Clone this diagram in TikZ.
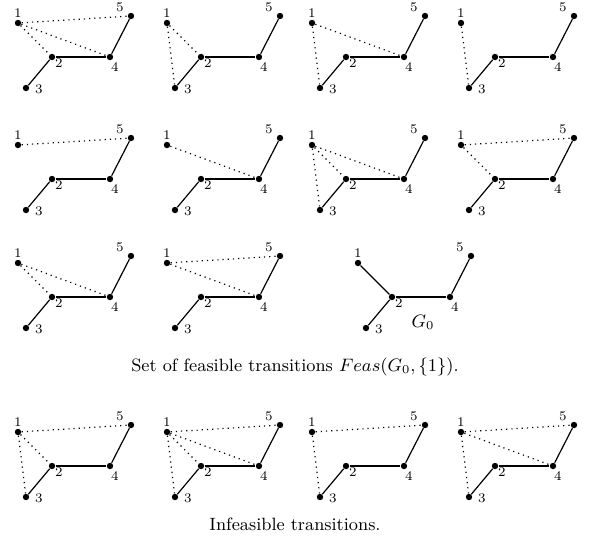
\documentclass[tikz,border=0pt]{standalone}
\tikzset{
  vtx/.style={circle,fill=black,inner sep=0pt,minimum size=3.2pt},
  lbl/.style={inner sep=0pt,font=\fontsize{6.6}{7.5}\selectfont},
  solidedge/.style={line width=0.6pt},
  dotedge/.style={line width=0.6pt,dotted},
  caption/.style={inner sep=0pt,font=\fontsize{8.9}{10}\selectfont}
}
\newcommand{\graphpanel}[4]{%
  \begin{scope}[shift={(#2,#3)}]
    \node[vtx] (#1-1) at (18,23) {};
    \node[vtx] (#1-2) at (52,57) {};
    \node[vtx] (#1-3) at (26,88) {};
    \node[vtx] (#1-4) at (110,57) {};
    \node[vtx] (#1-5) at (131,16) {};
    \node[lbl] (#1-l1) at (18,13) {1};
    \node[lbl] (#1-l2) at (59,63) {2};
    \node[lbl] (#1-l3) at (39,89) {3};
    \node[lbl] (#1-l4) at (115,67) {4};
    \node[lbl] (#1-l5) at (120,7) {5};
    \draw[solidedge] (#1-2) -- (#1-3);
    \draw[solidedge] (#1-2) -- (#1-4);
    \draw[solidedge] (#1-4) -- (#1-5);
    \foreach \t in {#4} {\draw[dotedge] (#1-1) -- (#1-\t);}
  \end{scope}}
\begin{document}
\begin{tikzpicture}[x=0.5pt,y=-0.5pt]
\useasboundingbox (0,0) rectangle (590,538);
% row 1
\graphpanel{a}{0}{0}{5,2,4}
\graphpanel{b}{149}{0}{3,2}
\graphpanel{c}{294}{0}{4,3}
\graphpanel{d}{443}{0}{3}
% row 2
\graphpanel{e}{0}{122}{5}
\graphpanel{f}{149}{122}{4}
\graphpanel{g}{294}{122}{2,3,4}
\graphpanel{h}{443}{122}{5,2}
% row 3
\graphpanel{i}{0}{240}{4,2}
\graphpanel{j}{149}{240}{5,4}
% G0
\begin{scope}[shift={(340,240)}]
  \node[vtx] (z-1) at (18,23) {};
  \node[vtx] (z-2) at (52,57) {};
  \node[vtx] (z-3) at (26,88) {};
  \node[vtx] (z-4) at (110,57) {};
  \node[vtx] (z-5) at (131,16) {};
  \node[lbl] (z-l1) at (18,13) {1};
  \node[lbl] (z-l2) at (59,63) {2};
  \node[lbl] (z-l3) at (39,89) {3};
  \node[lbl] (z-l4) at (115,67) {4};
  \node[lbl] (z-l5) at (120,7) {5};
  \node[caption] (z-g) at (83,82) {$G_0$};
  \draw[solidedge] (z-1) -- (z-2);
  \draw[solidedge] (z-2) -- (z-3);
  \draw[solidedge] (z-2) -- (z-4);
  \draw[solidedge] (z-4) -- (z-5);
\end{scope}
\node[caption,anchor=base] (cap1) at (295,371) {Set of feasible transitions $Feas(G_0,\{1\})$.};
% row 4
\graphpanel{k}{0}{409}{5,2,3}
\graphpanel{l}{149}{409}{5,2,3,4}
\graphpanel{m}{294}{409}{5,3}
\graphpanel{n}{443}{409}{5,4,3}
\node[caption,anchor=base] (cap2) at (295,530) {Infeasible transitions.};
\end{tikzpicture}
\end{document}
